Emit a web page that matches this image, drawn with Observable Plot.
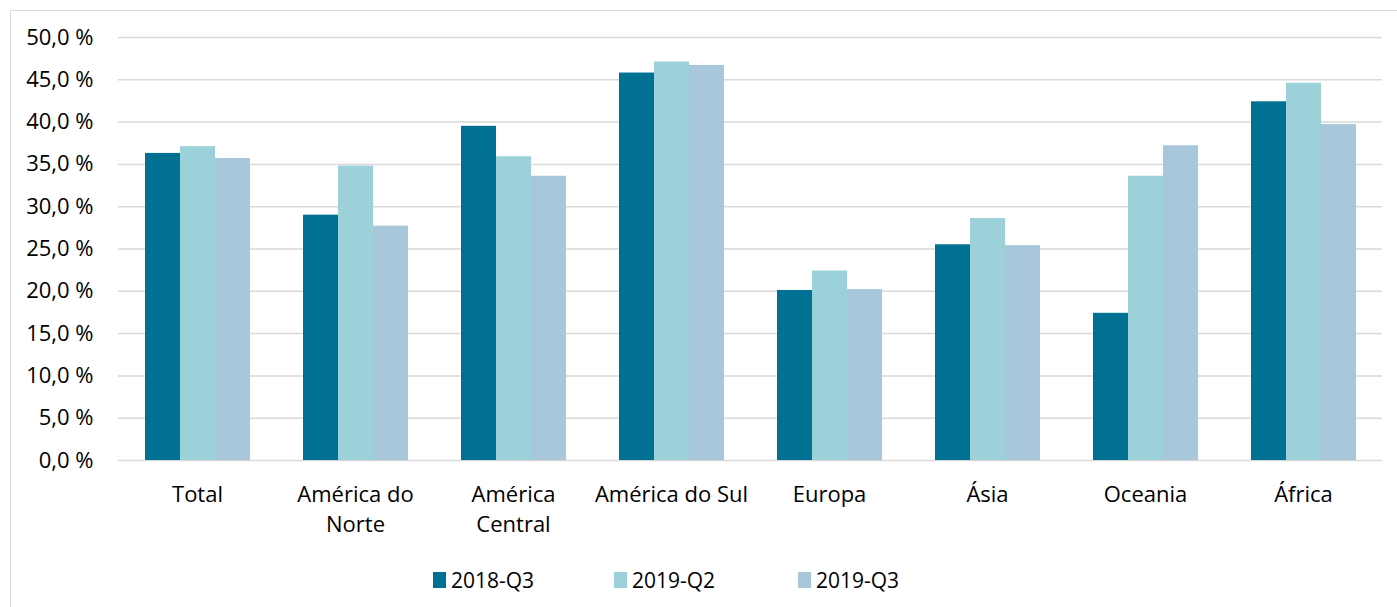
<!DOCTYPE html>
<html>
<head>
<meta charset="utf-8">
<script src="https://cdn.jsdelivr.net/npm/d3@7"></script>
<script src="https://cdn.jsdelivr.net/npm/@observablehq/plot@0.6"></script>
<style>
  html, body { margin: 0; padding: 0; background: #fff; overflow: hidden; }
  #wrap { position: relative; width: 1397px; height: 607px; overflow: hidden; font-family: "Open Sans", Lato, sans-serif; }
  #frame { position: absolute; left: 10px; top: 10px; width: 2000px; height: 2000px; border: 1.5px solid #d9d9d9; box-sizing: border-box; }
  #chart { position: absolute; left: 0; top: 0; }
  #legend { position: absolute; top: 567px; left: 0; width: 1397px; height: 26px; }
  .item { position: absolute; top: 0; display: flex; align-items: center; font-size: 21px; color: #000; height: 26px; }
  .sw { width: 13px; height: 16px; margin-right: 5px; }
</style>
</head>
<body>
<div id="wrap">
  <div id="frame"></div>
  <div id="chart"></div>
  <div id="legend"></div>
</div>
<script>
const categories = ["Total", "América do Norte", "América Central", "América do Sul", "Europa", "Ásia", "Oceania", "África"];
const categoryLabels = ["Total", "América do\nNorte", "América\nCentral", "América do Sul", "Europa", "Ásia", "Oceania", "África"];
const series = ["2018-Q3", "2019-Q2", "2019-Q3"];
const colors = ["#017193", "#9dd1da", "#a8c7da"];
const v2018Q3 = [36.3, 29.0, 39.5, 45.8, 20.1, 25.5, 17.4, 42.4];
const v2019Q2 = [37.1, 34.8, 35.9, 47.1, 22.4, 28.6, 33.6, 44.6];
const v2019Q3 = [35.7, 27.7, 33.6, 46.7, 20.2, 25.4, 37.2, 39.7];
const yTicks = [0, 5, 10, 15, 20, 25, 30, 35, 40, 45, 50];
const legendX = [433, 614, 798];

const values = [v2018Q3, v2019Q2, v2019Q3];
const data = [];
categories.forEach((c, i) => series.forEach((s, j) => data.push({cat: c, series: s, value: values[j][i]})));
const labelOf = new Map(categories.map((c, i) => [c, categoryLabels[i]]));

const chart = Plot.plot({
  width: 1397,
  height: 545,
  marginLeft: 118,
  marginRight: 15,
  marginTop: 37,
  marginBottom: 85,
  style: {fontFamily: "'Open Sans', Lato, sans-serif", fontSize: "22px", color: "#000", background: "transparent"},
  fx: {domain: categories, padding: 0, label: null},
  x: {domain: series, axis: null, paddingInner: 0, paddingOuter: 0.757},
  y: {domain: [0, 50], label: null},
  color: {domain: series, range: colors},
  marks: [
    Plot.gridY(yTicks, {stroke: "#d9d9d9", strokeOpacity: 1, strokeWidth: 1.5}),
    Plot.barY(data, {fx: "cat", x: "series", y: "value", fill: "series"}),
    Plot.axisY(yTicks, {tickSize: 0, tickPadding: 25, fontSize: 22, fill: "#000",
      tickFormat: d => d.toFixed(1).replace(".", ",") + " %", label: null}),
    Plot.axisFx({anchor: "bottom", tickSize: 0, tickPadding: 20, fontSize: 22, lineHeight: 1.364, fill: "#000",
      tickFormat: d => labelOf.get(d), label: null})
  ]
});
document.getElementById("chart").appendChild(chart);

const legend = document.getElementById("legend");
series.forEach((s, i) => {
  const item = document.createElement("div");
  item.className = "item";
  item.style.left = legendX[i] + "px";
  const sw = document.createElement("div");
  sw.className = "sw";
  sw.style.background = colors[i];
  const t = document.createElement("span");
  t.textContent = s;
  item.appendChild(sw);
  item.appendChild(t);
  legend.appendChild(item);
});
</script>
</body>
</html>
